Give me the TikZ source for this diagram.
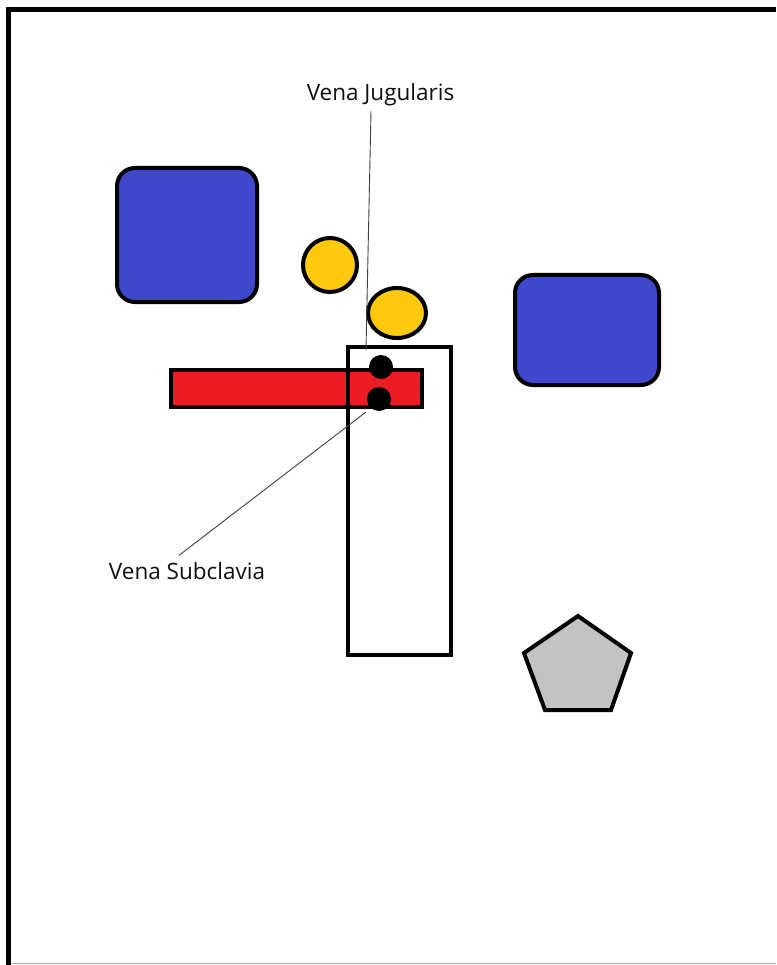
\documentclass[tikz,border=0pt]{standalone}
\usepackage{fontspec}
\setmainfont{Open Sans}
\usetikzlibrary{positioning}

\definecolor{paintblue}{HTML}{3F48CC}
\definecolor{paintred}{HTML}{ED1C24}
\definecolor{paintyellow}{HTML}{FFC90E}
\definecolor{paintgray}{HTML}{C3C3C3}
\definecolor{labeltext}{HTML}{101010}

\begin{document}
\begin{tikzpicture}[
    x=1pt, y=-1pt,
    every node/.style={inner sep=0pt, outer sep=0pt},
    shape line/.style={draw=black, line width=4pt},
    bluebox/.style={shape line, fill=paintblue, rectangle, rounded corners=18pt},
    blackdot/.style={circle, fill=black, minimum size=24pt},
    label text/.style={font=\fontsize{22.5}{24}\selectfont, text=labeltext},
    pointer/.style={draw=black!75, line width=0.9pt}
]
\useasboundingbox (0,0) rectangle (776,965);
\fill[white] (0,0) rectangle (776,965);

% frame
\draw[line width=5pt] (8.5,965) -- (8.5,9.5) -- (776,9.5);
\draw[black!30, line width=1.2pt] (11,963.5) -- (776,963.5);

% blue boxes
\node[bluebox, minimum width=140pt, minimum height=134pt] (box1) at (187,235) {};
\node[bluebox, minimum width=144pt, minimum height=110pt] (box2) at (587,330) {};

% yellow dots
\node[shape line, fill=paintyellow, circle, minimum size=54pt] (y1) at (330,265) {};
\node[shape line, fill=paintyellow, circle, minimum size=50pt, xscale=1.16] (y2) at (397,313) {};

% red bar and tall box
\node[shape line, fill=paintred, minimum width=251pt, minimum height=37pt] (bar) at (296.5,388.5) {};
\node[shape line, minimum width=103pt, minimum height=308pt] (tall) at (399.5,501) {};

% black dots
\node[blackdot] (d1) at (381,367) {};
\node[blackdot] (d2) at (379,399) {};

% labels
\node[label text] (jug) at (380.5,95) {Vena Jugularis};
\node[label text] (sub) at (187,571) {Vena Subclavia};
\coordinate (jugend) at (366,350);
\coordinate (subend) at (366,412);
\draw[pointer] ([xshift=-9.5pt,yshift=-5pt]jug.south) -- (jugend);
\draw[pointer] ([xshift=-8pt,yshift=7pt]sub.north) -- (subend);

% pentagon
\draw[shape line, fill=paintgray, line join=miter]
    (578,616) -- (631,653) -- (611,710) -- (545,710) -- (524,653) -- cycle;
\end{tikzpicture}
\end{document}
